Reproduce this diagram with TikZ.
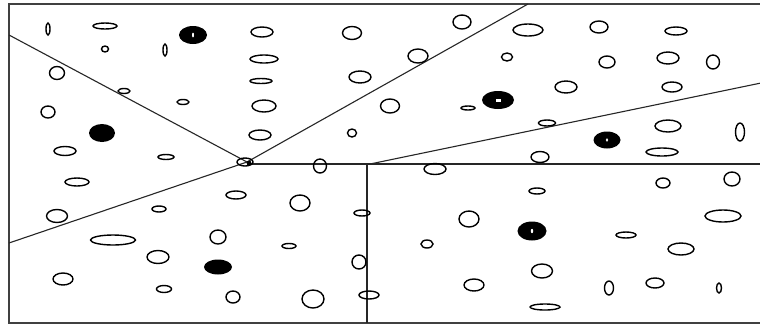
\documentclass[tikz,border=0pt]{standalone}
\begin{document}
\begin{tikzpicture}[x=1pt,y=-1pt,
  blob/.style={draw=black,line width=1.4pt},
  dotblob/.style={fill=black},
  sep/.style={draw=black!85,line width=1.1pt},
  frame/.style={draw=black!75,line width=2pt}]
\useasboundingbox (0,0) rectangle (760,325);
\fill[white] (0,0) rectangle (760,325);
% frame
\coordinate (tr) at (761,4);
\coordinate (tl) at (9,4);
\coordinate (bl) at (9,323);
\coordinate (br) at (761,323);
\draw[frame] (tr) -- (tl) -- (bl) -- (br);
% separating lines
\coordinate (c) at (247,162);
\coordinate (l1) at (9,35);
\coordinate (t2) at (528,4);
\coordinate (l3) at (9,243);
\coordinate (h0) at (247,164);
\coordinate (h1) at (761,164);
\coordinate (v0) at (367,164);
\coordinate (v1) at (367,323);
\coordinate (d0) at (370,164);
\coordinate (d1) at (761,83);
\draw[sep] (l1) -- (c);
\draw[sep] (c) -- (t2);
\draw[sep] (c) -- (l3);
\draw[sep,line width=1.5pt] (h0) -- (h1);
\draw[sep,line width=2pt] (v0) -- (v1);
\draw[sep] (d0) -- (d1);
% junction
\draw[blob] (245,162) ellipse (8 and 4);
\fill (249,163) circle (2.4);
% top-left region
\draw[blob] (48,29) ellipse (2 and 6);
\draw[blob] (105,26) ellipse (12 and 3);
\draw[blob] (105,49) ellipse (3.5 and 3);
\draw[blob] (165,50) ellipse (2 and 6);
\draw[blob] (57,73) ellipse (7.5 and 6.5);
\draw[blob] (124,91) ellipse (6 and 2.5);
\draw[blob] (48,112) ellipse (7 and 6);
\draw[blob] (183,102) ellipse (6 and 2.5);
\draw[blob] (65,151) ellipse (11 and 4.5);
\draw[blob] (166,157) ellipse (8 and 2.5);
\fill[dotblob] (193,35) ellipse (14 and 9);
\fill[white] (193,35) ellipse (1 and 2.5);
\fill[dotblob] (102,133) ellipse (13 and 9);
% top-middle region
\draw[blob] (262,32) ellipse (11 and 5);
\draw[blob] (264,59) ellipse (14 and 4);
\draw[blob] (261,81) ellipse (11 and 2.5);
\draw[blob] (264,106) ellipse (12 and 6);
\draw[blob] (260,135) ellipse (11 and 5);
\draw[blob] (352,33) ellipse (9.5 and 6.5);
\draw[blob] (462,22) ellipse (9 and 7);
\draw[blob] (418,56) ellipse (10 and 7);
\draw[blob] (360,77) ellipse (11 and 6);
\draw[blob] (390,106) ellipse (9.5 and 7);
\draw[blob] (352,133) ellipse (4.5 and 4);
\draw[blob] (468,108) ellipse (7 and 2);
\draw[blob] (507,57) ellipse (5.5 and 4);
\draw[blob] (320,166) ellipse (6.5 and 7);
\fill[dotblob] (498,100) ellipse (16 and 9);
\fill[white] (496,98.5) rectangle (500.5,102);
% top-right region
\draw[blob] (528,30) ellipse (15 and 6);
\draw[blob] (599,27) ellipse (9 and 6);
\draw[blob] (676,31) ellipse (11 and 4);
\draw[blob] (607,62) ellipse (8 and 6);
\draw[blob] (668,58) ellipse (11 and 6);
\draw[blob] (713,62) ellipse (6.5 and 7);
\draw[blob] (566,87) ellipse (11 and 6);
\draw[blob] (672,87) ellipse (10 and 5);
\draw[blob] (547,123) ellipse (8.5 and 3);
\draw[blob] (668,126) ellipse (13 and 6);
\draw[blob] (740,132) ellipse (4.5 and 9);
\draw[blob] (662,152) ellipse (16 and 4);
\draw[blob] (540,157) ellipse (9 and 5.5);
\fill[dotblob] (607,140) ellipse (13.5 and 8.5);
\fill[white] (607,140) ellipse (1.2 and 1.8);
% bottom-left region
\draw[blob] (77,182) ellipse (12 and 4);
\draw[blob] (57,216) ellipse (10.5 and 6.5);
\draw[blob] (159,209) ellipse (7 and 3);
\draw[blob] (236,195) ellipse (10 and 4);
\draw[blob] (113,240) ellipse (22.5 and 5);
\draw[blob] (218,237) ellipse (8 and 7);
\draw[blob] (158,257) ellipse (11 and 6.5);
\draw[blob] (63,279) ellipse (10 and 6);
\draw[blob] (164,289) ellipse (7.5 and 3.5);
\draw[blob] (233,297) ellipse (7 and 6);
\fill[dotblob] (218,267) ellipse (14 and 7.5);
% bottom-middle region
\draw[blob] (300,203) ellipse (10 and 8);
\draw[blob] (362,213) ellipse (8 and 3);
\draw[blob] (289,246) ellipse (7 and 2.5);
\draw[blob] (359,262) ellipse (7 and 7);
\draw[blob] (313,299) ellipse (11 and 9);
\draw[blob] (369,295) ellipse (10 and 4);
% bottom-right region
\draw[blob] (435,169) ellipse (11 and 5.5);
\draw[blob] (469,219) ellipse (10 and 8);
\draw[blob] (427,244) ellipse (6 and 4);
\draw[blob] (474,285) ellipse (10 and 6);
\draw[blob] (663,183) ellipse (7 and 5);
\draw[blob] (732,179) ellipse (8 and 7);
\draw[blob] (537,191) ellipse (8 and 3);
\draw[blob] (723,216) ellipse (18 and 6);
\draw[blob] (626,235) ellipse (10 and 3);
\draw[blob] (681,249) ellipse (13 and 6);
\draw[blob] (542,271) ellipse (10.5 and 7);
\draw[blob] (609,288) ellipse (4.5 and 7);
\draw[blob] (655,283) ellipse (9 and 5);
\draw[blob] (719,288) ellipse (2.5 and 5);
\draw[blob] (545,307) ellipse (15 and 3);
\fill[dotblob] (532,231) ellipse (14.5 and 9.5);
\fill[white] (532,231) ellipse (1.2 and 2.2);
\end{tikzpicture}
\end{document}
